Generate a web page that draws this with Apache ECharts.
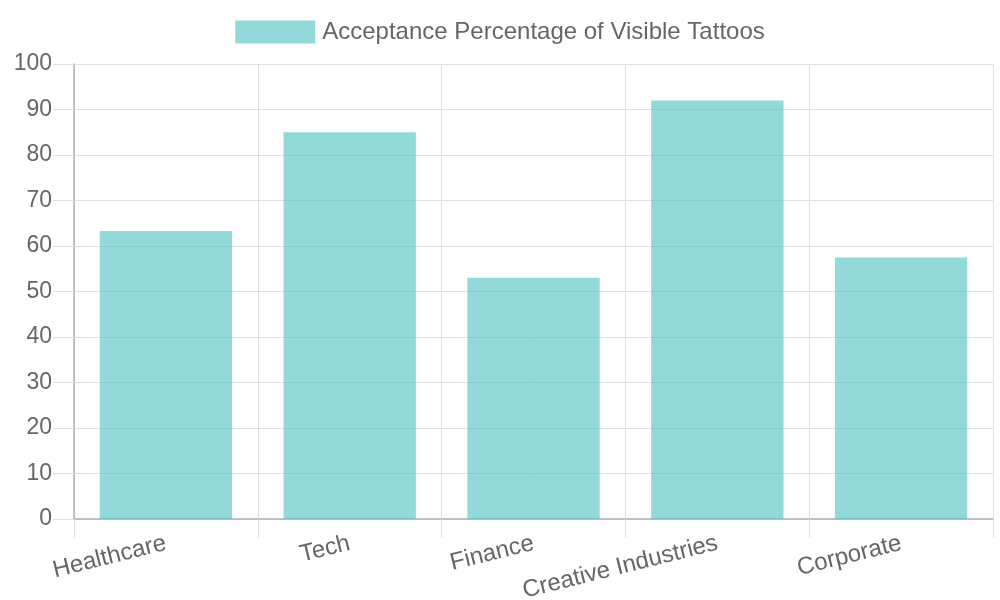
<!DOCTYPE html>
<html>
<head>
<meta charset="utf-8">
<script src="https://cdn.jsdelivr.net/npm/echarts@6/dist/echarts.min.js"></script>
<style>
  html, body { margin: 0; padding: 0; background: #fff; }
  #chart { width: 1000px; height: 600px; }
</style>
</head>
<body>
<div id="chart"></div>
<script>
// data
const industries = ['Healthcare', 'Tech', 'Finance', 'Creative Industries', 'Corporate']
const acceptance = [63.3, 85, 53, 92, 57.5]
const seriesName = 'Acceptance Percentage of Visible Tattoos'

const chart = echarts.init(document.getElementById('chart'))

const option = {
    animation: false,
    textStyle: { fontFamily: 'Liberation Sans, Arial, sans-serif' },
    legend: {
        top: 15,
        left: 'center',
        icon: 'rect',
        itemWidth: 80,
        itemHeight: 23,
        itemGap: 10,
        textStyle: { fontSize: 24, color: '#666', padding: [0, 0, 0, 2] },
        data: [seriesName]
    },
    grid: { left: 74, right: 7, top: 64, bottom: 81, outerBoundsMode: 'none', containLabel: false },
    xAxis: {
        type: 'category',
        data: industries,
        axisLine: { lineStyle: { color: '#b0b0b0', width: 1.5 } },
        axisTick: { show: true, length: 19, lineStyle: { color: '#e0e0e0' } },
        splitLine: { show: true, lineStyle: { color: '#e0e0e0' } },
        axisLabel: { rotate: 14, margin: 24, fontSize: 24, color: '#666' }
    },
    yAxis: {
        type: 'value',
        min: 0,
        max: 100,
        interval: 10,
        axisLine: { show: true, lineStyle: { color: '#b0b0b0', width: 1.5 } },
        axisTick: { show: true, length: 21, lineStyle: { color: '#e0e0e0' } },
        splitLine: { lineStyle: { color: '#e0e0e0' } },
        axisLabel: { margin: 22, fontSize: 23, color: '#666' }
    },
    series: [{
        name: seriesName,
        type: 'bar',
        data: acceptance,
        barCategoryGap: '28%',
        itemStyle: { color: 'rgba(75,192,192,0.6)' }
    }]
}

chart.setOption(option)
</script>
</body>
</html>
